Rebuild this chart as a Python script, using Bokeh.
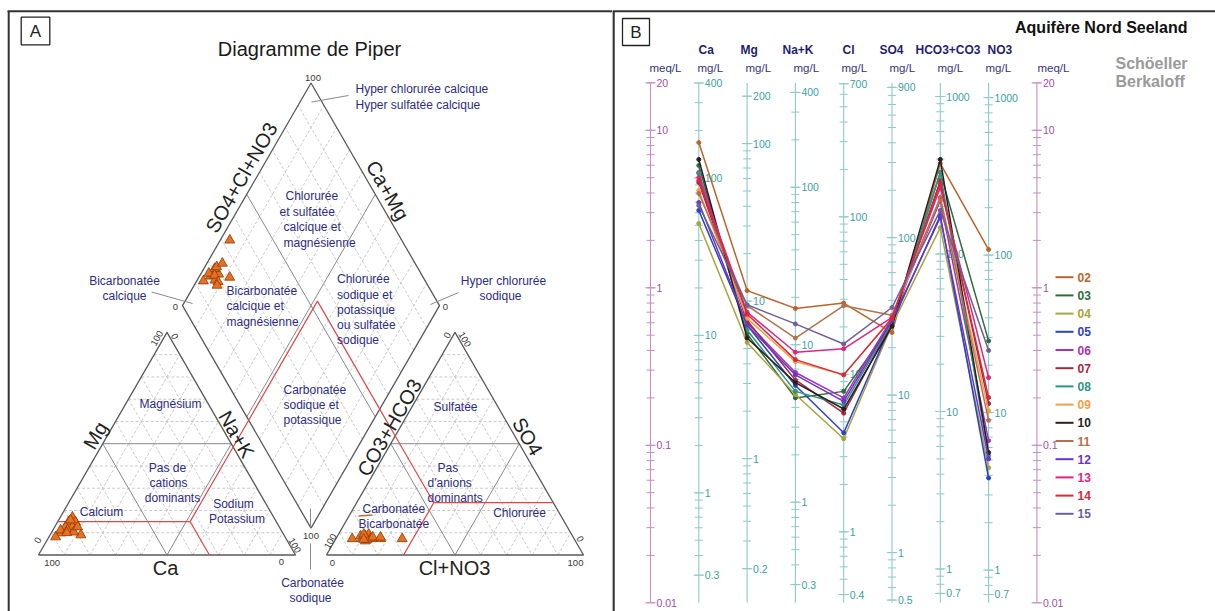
import math
from bokeh.plotting import figure
from bokeh.layouts import row
from bokeh.models import Range1d
from bokeh.embed import file_html
from bokeh.resources import INLINE
from bokeh.core.properties import value

FONT = "Liberation Sans"

# ------------------------------------------------------------------ data
samples = ["02", "03", "04", "05", "06", "07", "08", "09", "10", "11", "12", "13", "14", "15"]
colors = ["#b8642a", "#2f6b3c", "#a6a43c", "#2b43c4", "#a335b5", "#a8263f", "#2e9585",
          "#f0a048", "#2a1f1f", "#b4714c", "#6a35c8", "#e0257e", "#d8283c", "#6d5f9b"]

ions = ["Ca", "Mg", "Na+K", "Cl", "SO4", "HCO3+CO3", "NO3"]
eq_weight = [20.04, 12.15, 22.99, 35.45, 48.03, 61.02, 62.0]

# Schoeller-Berkaloff values, meq/L
ca_meq = [8.36, 5.98, 2.56, 3.10, 5.40, 4.66, 5.32, 4.15, 6.53, 3.97, 3.48, 5.02, 4.80, 3.33]
mg_meq = [0.96, 0.51, 0.45, 0.58, 0.60, 0.62, 0.54, 0.64, 0.48, 0.77, 0.58, 0.70, 0.68, 0.78]
nak_meq = [0.74, 0.20, 0.21, 0.24, 0.29, 0.26, 0.22, 0.34, 0.25, 0.48, 0.28, 0.39, 0.35, 0.59]
cl_meq = [0.80, 0.22, 0.11, 0.12, 0.20, 0.16, 0.18, 0.28, 0.17, 0.77, 0.19, 0.41, 0.28, 0.44]
so4_meq = [0.52, 0.59, 0.58, 0.60, 0.64, 0.60, 0.60, 0.64, 0.57, 0.67, 0.62, 0.65, 0.64, 0.75]
hco3_meq = [6.15, 5.40, 2.41, 2.88, 3.58, 4.80, 5.40, 3.74, 6.53, 3.74, 2.80, 4.33, 4.59, 3.10]
no3_meq = [1.75, 0.46, 0.072, 0.062, 0.107, 0.184, 0.086, 0.166, 0.090, 0.144, 0.082, 0.269, 0.201, 0.40]

# axis tick labels (mg/L for ions, meq/L for the outer scales)
ion_tick_labels = [[400, 100, 10, 1, 0.3], [200, 100, 10, 1, 0.2], [400, 100, 10, 1, 0.3],
                   [700, 100, 10, 1, 0.4], [900, 100, 10, 1, 0.5], [1000, 100, 10, 1, 0.7],
                   [1000, 100, 10, 1, 0.7]]
meq_tick_labels = [20, 10, 1, 0.1, 0.01]

# Piper percentages (cations: Mg, Na+K ; anions: SO4, Cl+NO3)
pip_mg = [9.9, 17.0, 8.1, 14.8, 14.8, 12.6, 12.6, 11.2, 11.2, 9.0, 10.3, 15.7, 12.6, 10.0]
pip_na = [3.7, 4.7, 2.6, 4.3, 7.0, 4.2, 6.9, 3.0, 5.7, 12.0, 8.5, 4.6, 8.9, 6.0]
pip_so4 = [7.3, 8.5, 7.3, 7.3, 9.3, 7.3, 6.3, 8.5, 7.0, 7.3, 9.3, 8.0, 7.0, 8.0]
pip_cl = [25.8, 10.9, 6.35, 10.2, 11.8, 13.5, 12.0, 9.0, 12.3, 17.4, 9.9, 14.0, 11.0, 17.0]

# ------------------------------------------------------------------ panel A : Piper
W = 257.0
H = W * math.sqrt(3) / 2
BASE = 554.5
CAT_X0 = 38.0
AN_X0 = 326.0
GAP = AN_X0 - (CAT_X0 + W)
DIA_BX = CAT_X0 + W + GAP / 2
DIA_BY = BASE - GAP / 2 * math.sqrt(3)


def cat_xy(mg, na):
    return CAT_X0 + (na + mg / 2) * W, BASE - mg * H


def an_xy(so4, cl):
    return AN_X0 + (cl + so4 / 2) * W, BASE - so4 * H


def dia_xy(s, c):
    return DIA_BX + (s - c) * W / 2, DIA_BY - (s + c) * H


pA = figure(width=612, height=611, x_range=Range1d(0, 612), y_range=Range1d(611, 0),
            output_backend="svg", toolbar_location=None, min_border=0)
pA.axis.visible = False
pA.grid.visible = False
pA.outline_line_color = None
pA.background_fill_color = "white"

GRID_C = "#bdbdbd"
EDGE_C = "#5a5a5a"
MID_C = "#8a8a8a"


def seg_list(pairs, **kw):
    xs = [[a[0], b[0]] for a, b in pairs]
    ys = [[a[1], b[1]] for a, b in pairs]
    pA.multi_line(xs, ys, **kw)


fr = [k / 10 for k in range(1, 10) if k != 5]
for fn in (cat_xy, an_xy):
    dashed = []
    for f in fr:
        dashed.append((fn(f, 0), fn(f, 1 - f)))
        dashed.append((fn(0, f), fn(1 - f, f)))
        dashed.append((fn(1 - f, 0), fn(0, 1 - f)))
    seg_list(dashed, line_color=GRID_C, line_width=0.8, line_dash="3 2")
    mids = [(fn(0.5, 0), fn(0.5, 0.5)), (fn(0, 0.5), fn(0.5, 0.5)), (fn(0.5, 0), fn(0, 0.5))]
    seg_list(mids, line_color=MID_C, line_width=1)
    tri = [fn(0, 0), fn(0, 1), fn(1, 0), fn(0, 0)]
    pA.line([t[0] for t in tri], [t[1] for t in tri], line_color=EDGE_C, line_width=1.3)

dd = []
for f in fr:
    dd.append((dia_xy(f, 0), dia_xy(f, 1)))
    dd.append((dia_xy(0, f), dia_xy(1, f)))
seg_list(dd, line_color=GRID_C, line_width=0.8, line_dash="3 2")
seg_list([(dia_xy(0.5, 0), dia_xy(0.5, 1)), (dia_xy(0, 0.5), dia_xy(1, 0.5))], line_color=MID_C, line_width=1)
dm = [dia_xy(0, 0), dia_xy(1, 0), dia_xy(1, 1), dia_xy(0, 1), dia_xy(0, 0)]
pA.line([t[0] for t in dm], [t[1] for t in dm], line_color=EDGE_C, line_width=1.3)

# red classification lines
RED = "#e04848"
J1 = cat_xy(0.15, 0.515)
J2 = an_xy(0.235, 0.30)
red_paths = [
    [cat_xy(0.15, 0.0), J1],
    [J1, cat_xy(0.0, 0.665)],
    [J1, cat_xy(0.485, 0.515), dia_xy(0, 0.485), dia_xy(0.535, 0.485), dia_xy(0.535, 0.0),
     an_xy(0.535, 0.0), J2],
    [J2, an_xy(0.235, 0.765)],
    [J2, an_xy(0.0, 0.30)],
]
pA.multi_line([[p[0] for p in path] for path in red_paths], [[p[1] for p in path] for path in red_paths],
              line_color=RED, line_width=1.2)

# leader lines
leaders = [((311, 101.5), (348, 95)), ((151, 291.5), (192, 303)), ((430, 304), (458, 292)),
           ((310, 508), (310, 527)), ((310, 543), (310, 569))]
seg_list(leaders, line_color="#8a8a8a", line_width=1)
pA.line([358, 372], [515.5, 514.5], line_color="#c86a28", line_width=1.3)

# data points
cat_pts = [cat_xy(m / 100, n / 100) for m, n in zip(pip_mg, pip_na)]
an_pts = [an_xy(s / 100, c / 100) for s, c in zip(pip_so4, pip_cl)]
dia_pts = [dia_xy((s + c) / 100, 1 - n / 100) for s, c, n in zip(pip_so4, pip_cl, pip_na)]
for pts in (cat_pts, an_pts, dia_pts):
    pA.scatter([p[0] for p in pts], [p[1] for p in pts], marker="triangle", size=10,
               fill_color="#e8701e", line_color="#8a3a08", line_width=0.8)

# frame, box A, title
pA.line([8.2, 8.2], [611, 10.7], line_color="#333333", line_width=2)
pA.line([7, 612], [10.7, 10.7], line_color="#333333", line_width=2)
pA.quad(left=[20.7], right=[49.3], top=[16.7], bottom=[44.3], fill_color=None, line_color="#222222", line_width=1.3)


def txtA(x, y, t, size, color, align="center", angle=0.0, style="normal"):
    pA.text([x], [y], text=[t], text_font=value(FONT), text_font_size=size, text_color=color,
            text_align=align, text_baseline="middle", angle=angle, text_font_style=style)


txtA(34.8, 31, "A", "17px", "#222222")
txtA(309, 48, "Diagramme de Piper", "20px", "#1a1a1a")

A60 = math.pi / 3
TS = "20px"
txtA(241, 177, "SO4+Cl+NO3", TS, "#222222", angle=A60)
txtA(387, 190, "Ca+Mg", TS, "#222222", angle=-A60)
txtA(95, 435, "Mg", TS, "#222222", angle=A60)
txtA(236, 434, "Na+K", TS, "#222222", angle=-A60)
txtA(165, 567, "Ca", TS, "#222222")
txtA(389, 427, "CO3+HCO3", TS, "#222222", angle=A60)
txtA(527, 436, "SO4", TS, "#222222", angle=-A60)
txtA(454, 567, "Cl+NO3", TS, "#222222")

VC = "#3a3a3a"
vlab = [(51.7, 562, "100", 0), (37.5, 540, "0", A60), (156.5, 338, "100", A60), (174, 336, "0", -A60),
        (281, 561.5, "0", 0), (294, 545, "100", -A60),
        (332, 562, "0", 0), (330, 541, "100", A60), (447, 335, "0", A60), (464, 339, "100", -A60),
        (575, 562, "100", 0), (579.5, 538.5, "0", -A60),
        (312.5, 77.5, "100", 0), (175, 306, "0", 0), (445, 306.5, "0", 0), (310.5, 535, "100", 0)]
for x, y, t, a in vlab:
    txtA(x, y, t, "9.5px", VC, angle=a)

NAVY = "#2c2c88"
ZS = "12px"
zone_left = [(355, 88.5, "Hyper chlorurée calcique"), (355, 104, "Hyper sulfatée calcique"),
             (285, 195, "Chlorurée"), (279, 211, "et sulfatée"), (283, 226, "calcique et"), (283, 242, "magnésienne"),
             (226, 290, "Bicarbonatée"), (226, 305.5, "calcique et"), (226, 321, "magnésienne"),
             (336.5, 278, "Chlorurée"), (336.5, 294, "sodique et"), (336.5, 309, "potassique"),
             (336.5, 324, "ou sulfatée"), (336.5, 339, "sodique"),
             (283, 389, "Carbonatée"), (283, 404, "sodique et"), (283, 419, "potassique"),
             (437, 467, "Pas"), (427, 482, "d'anions"), (427, 497, "dominants"),
             (362, 508, "Carbonatée"), (358, 523, "Bicarbonatée")]
for x, y, t in zone_left:
    txtA(x, y, t, ZS, NAVY, align="left")
zone_center = [(124, 280, "Bicarbonatée"), (124, 295, "calcique"),
               (503, 280, "Hyper chlorurée"), (500, 295, "sodique"),
               (312, 582, "Carbonatée"), (310, 597, "sodique"),
               (170, 403, "Magnésium"), (167, 467, "Pas de"), (168, 482, "cations"), (172, 497, "dominants"),
               (101, 511, "Calcium"), (233, 503, "Sodium"), (236.5, 518, "Potassium"),
               (455, 406, "Sulfatée"), (519, 512, "Chlorurée")]
for x, y, t in zone_center:
    txtA(x, y, t, ZS, NAVY)

# ------------------------------------------------------------------ panel B : Schoeller-Berkaloff
AX_X0 = 650.0
AX_DX = 48.3
Y0 = 287.3
DEC = 157.5


def ix(xp):
    return (xp - AX_X0) / AX_DX


def mv(yp):
    return 10 ** ((Y0 - yp) / DEC)


pB = figure(width=603, height=611, x_range=Range1d(ix(612), ix(1215)), y_range=Range1d(mv(611), mv(0)),
            y_axis_type="log", output_backend="svg", toolbar_location=None, min_border=0)
pB.axis.visible = False
pB.grid.visible = False
pB.outline_line_color = None
pB.background_fill_color = "white"

MEQ_LO, MEQ_HI = 0.01, 20.0
TEAL_L = "#8ccaca"
TEAL_T = "#3a9f9f"
PUR_L = "#c78ec7"
PUR_T = "#a0509e"


def log_ticks(lo, hi):
    out = []
    for k in range(-3, 5):
        for d in range(1, 10):
            v = d * 10 ** k
            if lo * 0.9999 <= v <= hi * 1.0001:
                out.append(v)
    return out


tw = 4.0 / AX_DX


def draw_axis(xi, unit_factor, labels, line_c, text_c):
    pB.segment([xi], [MEQ_LO], [xi], [MEQ_HI], line_color=line_c, line_width=1.1)
    tv = log_ticks(MEQ_LO * unit_factor, MEQ_HI * unit_factor)
    ys = [v / unit_factor for v in tv]
    pB.segment([xi - tw] * len(ys), ys, [xi + tw] * len(ys), ys, line_color=line_c, line_width=1)
    ly = [v / unit_factor for v in labels]
    lt = [f"{v:g}" for v in labels]
    pB.segment([xi - 1.3 * tw] * len(ly), ly, [xi + 1.3 * tw] * len(ly), ly, line_color=line_c, line_width=1)
    pB.text([xi + 6 / AX_DX] * len(ly), ly, text=lt, text_font=value(FONT), text_font_size="10.5px",
            text_color=text_c, text_align="left", text_baseline="middle")


draw_axis(0, 1.0, meq_tick_labels, PUR_L, PUR_T)
draw_axis(8, 1.0, meq_tick_labels, PUR_L, PUR_T)
for i, ew in enumerate(eq_weight):
    draw_axis(i + 1, ew, ion_tick_labels[i], TEAL_L, TEAL_T)

series = list(zip(ca_meq, mg_meq, nak_meq, cl_meq, so4_meq, hco3_meq, no3_meq))
xs_ion = list(range(1, 8))
for vals, col in zip(series, colors):
    pB.line(xs_ion, list(vals), line_color=col, line_width=1.5)
    pB.scatter(xs_ion, list(vals), size=4, fill_color=col, line_color=col)

# headers
HDR = "#1f1f72"
hdr_x = [698, 740, 782, 842, 879, 915, 987]
for xp, t in zip(hdr_x, ions):
    pB.text([ix(xp)], [mv(49)], text=[t], text_font=value(FONT), text_font_size="12px",
            text_color=HDR, text_align="left", text_baseline="middle", text_font_style="bold")
unit_x = [ix(649), ix(697), ix(745), ix(793), ix(841), ix(889), ix(937), ix(985), ix(1037)]
unit_t = ["meq/L"] + ["mg/L"] * 7 + ["meq/L"]
pB.text(unit_x, [mv(67)] * 9, text=unit_t, text_font=value(FONT), text_font_size="11.5px",
        text_color="#34347e", text_align="left", text_baseline="middle")

pB.text([ix(1187)], [mv(27)], text=["Aquifère Nord Seeland"], text_font=value(FONT), text_font_size="16px",
        text_color="#111111", text_align="right", text_baseline="middle", text_font_style="bold")
pB.text([ix(1115), ix(1115)], [mv(63), mv(81)], text=["Schöeller", "Berkaloff"], text_font=value(FONT),
        text_font_size="16px", text_color="#9a9a9a", text_align="left", text_baseline="middle",
        text_font_style="bold")

# legend
for k, (s, col) in enumerate(zip(samples, colors)):
    yl = mv(276.7 + k * 18.2)
    pB.segment([ix(1055)], [yl], [ix(1073)], [yl], line_color=col, line_width=2)
    pB.text([ix(1077)], [yl], text=[s], text_font=value(FONT), text_font_size="12px", text_color=col,
            text_align="left", text_baseline="middle", text_font_style="bold")

# frame and box B
pB.segment([ix(612)], [mv(10.7)], [ix(1215)], [mv(10.7)], line_color="#333333", line_width=2)
pB.segment([ix(613)], [mv(10.7)], [ix(613)], [mv(611)], line_color="#333333", line_width=2.5)
pB.quad(left=[ix(622)], right=[ix(649)], top=[mv(18)], bottom=[mv(45)], fill_color=None,
        line_color="#222222", line_width=1.3)
pB.text([ix(635.5)], [mv(31.5)], text=["B"], text_font=value(FONT), text_font_size="17px",
        text_color="#222222", text_align="center", text_baseline="middle")

layout = row(pA, pB)
open("out.html", "w").write(file_html(layout, INLINE))
